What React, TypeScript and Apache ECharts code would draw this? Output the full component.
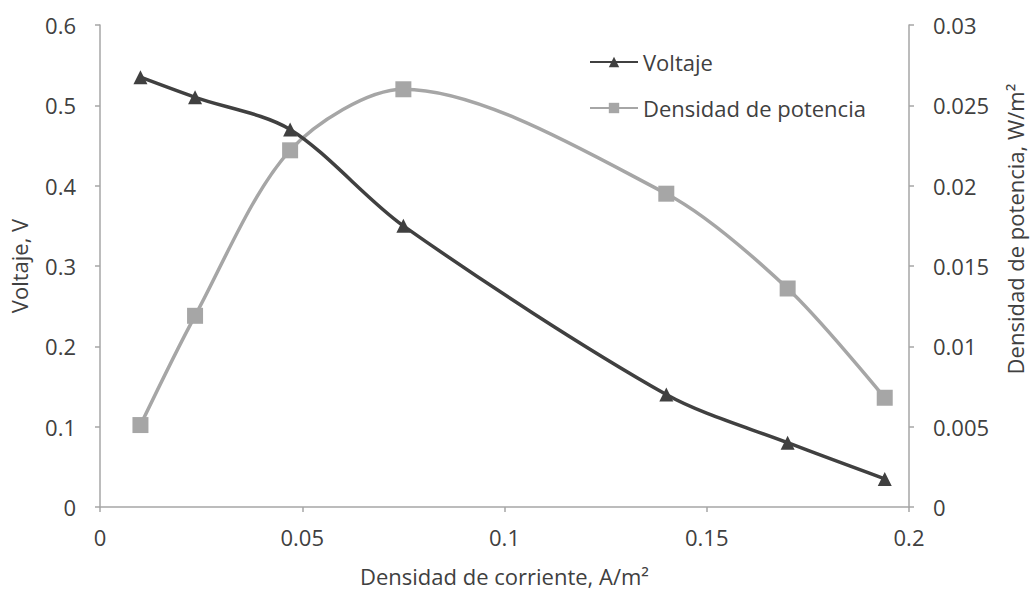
import React, { useEffect, useRef } from "react";
import * as echarts from "echarts";

const corriente = [0.01, 0.0235, 0.047, 0.075, 0.14, 0.17, 0.194];
const voltaje = [0.535, 0.51, 0.47, 0.35, 0.14, 0.08, 0.035];
const potencia = [0.0051, 0.0119, 0.0222, 0.026, 0.0195, 0.0136, 0.0068];
const xTicks = [0, 0.05, 0.1, 0.15, 0.2];

const FONT = "'Open Sans', 'Noto Sans', sans-serif";
const TXT = "#404040";

export default function App() {
  const ref = useRef<HTMLDivElement>(null);
  useEffect(() => {
    const chart = echarts.init(ref.current!, null, { renderer: "svg" });
    const axisLine = { show: true, lineStyle: { color: "#a6a6a6", width: 1.5 } };
    const axisTick = { show: true, length: 5, lineStyle: { color: "#a6a6a6", width: 1.5 } };
    const label = { color: TXT, fontSize: 22, fontFamily: FONT };
    const nameStyle = { color: TXT, fontSize: 22, fontFamily: FONT };
    chart.setOption({
      animation: false,
      backgroundColor: "#ffffff",
      grid: { left: 100, right: 121, top: 25, bottom: 82, containLabel: false },
      legend: {
        orient: "vertical",
        left: 584,
        top: 46,
        itemGap: 24,
        itemWidth: 48,
        itemHeight: 13,
        textStyle: { color: TXT, fontSize: 22, fontFamily: FONT },
        data: ["Voltaje", "Densidad de potencia"],
      },
      xAxis: {
        type: "value",
        min: 0,
        max: 0.2,
        interval: 0.05,
        axisLine,
        axisTick,
        splitLine: { show: false },
        axisLabel: {
          ...label,
          margin: 19,
          formatter: (v: number) => (xTicks.includes(+v.toFixed(3)) ? String(+v.toFixed(3)) : ""),
        },
        name: "Densidad de corriente, A/m²",
        nameLocation: "middle",
        nameGap: 58,
        nameTextStyle: nameStyle,
      },
      yAxis: [
        {
          type: "value",
          min: 0,
          max: 0.6,
          interval: 0.1,
          axisLine,
          axisTick,
          splitLine: { show: false },
          axisLabel: { ...label, margin: 24, formatter: (v: number) => String(+v.toFixed(2)) },
          name: "Voltaje, V",
          nameLocation: "middle",
          nameGap: 70,
          nameTextStyle: nameStyle,
        },
        {
          type: "value",
          min: 0,
          max: 0.03,
          interval: 0.005,
          position: "right",
          axisLine,
          axisTick,
          splitLine: { show: false },
          axisLabel: { ...label, margin: 24, formatter: (v: number) => String(+v.toFixed(4)) },
          name: "Densidad de potencia, W/m²",
          nameLocation: "middle",
          nameGap: 95,
          nameRotate: 90,
          nameTextStyle: { ...nameStyle, padding: [0, 0, 0, 74] },
        },
      ],
      series: [
        {
          name: "Voltaje",
          type: "line",
          yAxisIndex: 0,
          smooth: 0.3,
          data: corriente.map((x, i) => [x, voltaje[i]]),
          symbol: "triangle",
          symbolSize: 14,
          lineStyle: { color: "#404040", width: 3.5 },
          itemStyle: { color: "#404040" },
          z: 3,
        },
        {
          name: "Densidad de potencia",
          type: "line",
          yAxisIndex: 1,
          smooth: 0.3,
          data: corriente.map((x, i) => [x, potencia[i]]),
          symbol: "rect",
          symbolSize: 16,
          lineStyle: { color: "#a6a6a6", width: 3.5 },
          itemStyle: { color: "#a6a6a6" },
          z: 2,
        },
      ],
    });
    return () => chart.dispose();
  }, []);
  return <div ref={ref} style={{ width: 1034, height: 592, position: "absolute", left: 0, top: 0 }} />;
}
